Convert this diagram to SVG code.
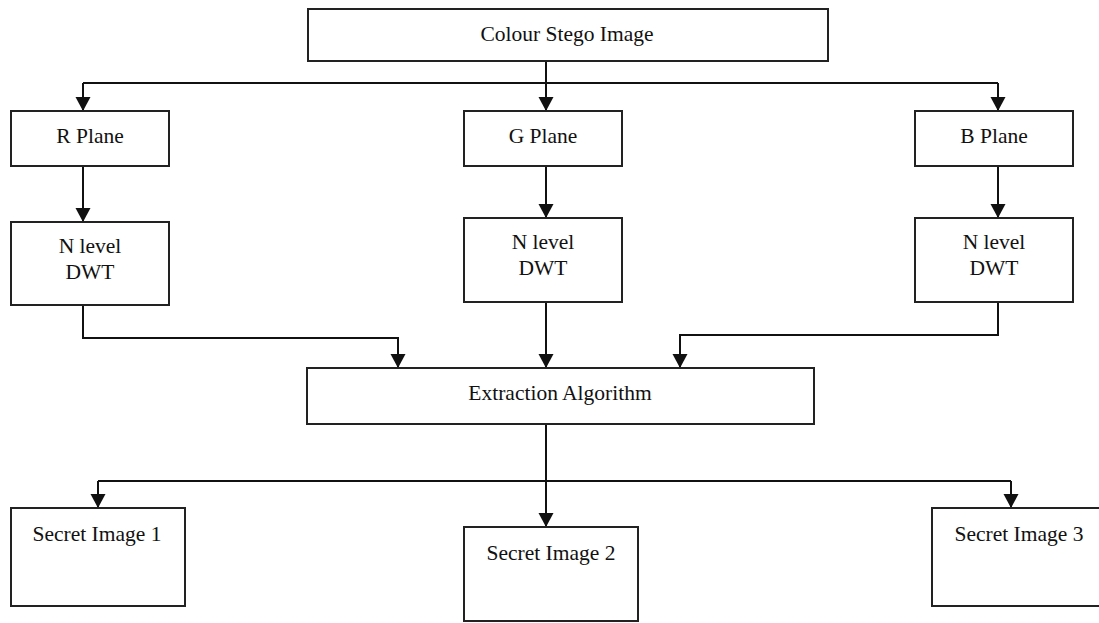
<svg xmlns="http://www.w3.org/2000/svg" width="1099" height="623" viewBox="0 0 1099 623">
<style>
.box{fill:#fff;stroke:#222;stroke-width:2}
.lbl{font-family:"Liberation Serif","Times New Roman",serif;font-size:21.5px;fill:#111;text-anchor:middle}
.con{fill:none;stroke:#111;stroke-width:2}
</style>
<defs>
<marker id="ah" markerUnits="userSpaceOnUse" markerWidth="16" markerHeight="16" viewBox="0 0 16 16" refX="15" refY="8" orient="auto">
<path d="M1,0.5 L15,8 L1,15.5 Z" fill="#111"/>
</marker>
</defs>
<rect width="1099" height="623" fill="#fff"/>
<g id="connectors">
<path class="con" d="M546,61 V83"/>
<path class="con" d="M83,83 H998"/>
<path class="con" d="M83,83 V111" marker-end="url(#ah)"/>
<path class="con" d="M546,83 V111" marker-end="url(#ah)"/>
<path class="con" d="M998,83 V111" marker-end="url(#ah)"/>
<path class="con" d="M83,166 V222" marker-end="url(#ah)"/>
<path class="con" d="M546,166 V218" marker-end="url(#ah)"/>
<path class="con" d="M998,166 V218" marker-end="url(#ah)"/>
<path class="con" d="M83,305 V338 H398 V368" marker-end="url(#ah)"/>
<path class="con" d="M546,302 V368" marker-end="url(#ah)"/>
<path class="con" d="M998,302 V335 H680 V368" marker-end="url(#ah)"/>
<path class="con" d="M546,424 V527" marker-end="url(#ah)"/>
<path class="con" d="M98,481 H1011"/>
<path class="con" d="M98,481 V508" marker-end="url(#ah)"/>
<path class="con" d="M1011,481 V508" marker-end="url(#ah)"/>
</g>
<g id="colour-stego-image">
<rect class="box" x="308" y="9" width="520" height="52"/>
<text class="lbl" x="567" y="41">Colour Stego Image</text>
</g>
<g id="r-plane">
<rect class="box" x="11" y="111" width="158" height="55"/>
<text class="lbl" x="90" y="143">R Plane</text>
</g>
<g id="g-plane">
<rect class="box" x="464" y="111" width="158" height="55"/>
<text class="lbl" x="543" y="143">G Plane</text>
</g>
<g id="b-plane">
<rect class="box" x="915" y="111" width="158" height="55"/>
<text class="lbl" x="994" y="143">B Plane</text>
</g>
<g id="r-dwt">
<rect class="box" x="11" y="222" width="158" height="83"/>
<text class="lbl" x="90" y="253">N level</text>
<text class="lbl" x="90" y="279">DWT</text>
</g>
<g id="g-dwt">
<rect class="box" x="464" y="218" width="158" height="84"/>
<text class="lbl" x="543" y="249">N level</text>
<text class="lbl" x="543" y="275">DWT</text>
</g>
<g id="b-dwt">
<rect class="box" x="915" y="218" width="158" height="84"/>
<text class="lbl" x="994" y="249">N level</text>
<text class="lbl" x="994" y="275">DWT</text>
</g>
<g id="extraction-algorithm">
<rect class="box" x="307" y="368" width="507" height="56"/>
<text class="lbl" x="560" y="400">Extraction Algorithm</text>
</g>
<g id="secret-image-1">
<rect class="box" x="11" y="508" width="174" height="98"/>
<text class="lbl" x="97" y="541">Secret Image 1</text>
</g>
<g id="secret-image-2">
<rect class="box" x="464" y="527" width="174" height="94"/>
<text class="lbl" x="551" y="560">Secret Image 2</text>
</g>
<g id="secret-image-3">
<rect class="box" x="932" y="508" width="180" height="98"/>
<text class="lbl" x="1019" y="541">Secret Image 3</text>
</g>
</svg>
